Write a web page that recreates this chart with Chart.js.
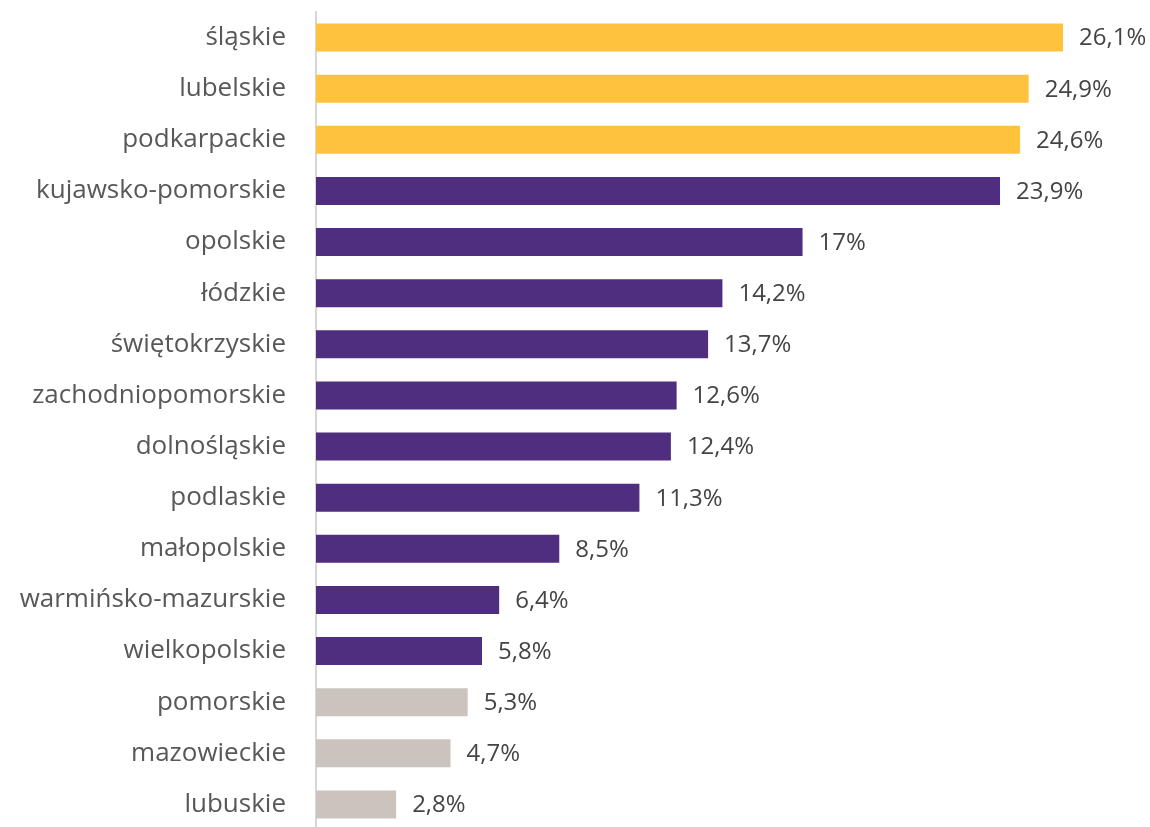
<!DOCTYPE html>
<html>
<head>
<meta charset="utf-8">
<script src="https://cdn.jsdelivr.net/npm/chart.js@4/dist/chart.umd.min.js"></script>
<style>
  html, body { margin: 0; padding: 0; background: #fff; overflow: hidden; }
  canvas { display: block; }
</style>
</head>
<body>
<canvas id="regionsChart" width="1150" height="830"></canvas>
<script>
// Share per region, %
const regions = ['śląskie', 'lubelskie', 'podkarpackie', 'kujawsko-pomorskie', 'opolskie', 'łódzkie',
  'świętokrzyskie', 'zachodniopomorskie', 'dolnośląskie', 'podlaskie', 'małopolskie',
  'warmińsko-mazurskie', 'wielkopolskie', 'pomorskie', 'mazowieckie', 'lubuskie'];
const shares = [26.1, 24.9, 24.6, 23.9, 17, 14.2, 13.7, 12.6, 12.4, 11.3, 8.5, 6.4, 5.8, 5.3, 4.7, 2.8];
// group: top = highest three, mid = the rest above average, low = bottom three
const groups = ['top', 'top', 'top', 'mid', 'mid', 'mid', 'mid', 'mid', 'mid', 'mid', 'mid', 'mid', 'mid', 'low', 'low', 'low'];

const groupColors = { top: '#FFC23D', mid: '#4F2D7F', low: '#CBC3BD' };
const fontFamily = "'Open Sans', sans-serif";

// Write the value next to the end of each bar
const valueLabels = {
  id: 'valueLabels',
  afterDatasetsDraw(chart) {
    const ctx = chart.ctx;
    const meta = chart.getDatasetMeta(0);
    ctx.save();
    ctx.font = '24px ' + fontFamily;
    ctx.fillStyle = '#444';
    ctx.textAlign = 'left';
    ctx.textBaseline = 'middle';
    meta.data.forEach((bar, i) => {
      const txt = shares[i].toString().replace('.', ',') + '%';
      ctx.fillText(txt, bar.x + 16, bar.y + 1);
    });
    ctx.restore();
  }
};

document.addEventListener('DOMContentLoaded', () => {
  const ctx = document.getElementById('regionsChart').getContext('2d');

  new Chart(ctx, {
    type: 'bar',
    data: {
      labels: regions,
      datasets: [{
        data: shares,
        backgroundColor: groups.map(g => groupColors[g]),
        barPercentage: 0.55,
        categoryPercentage: 1
      }]
    },
    options: {
      indexAxis: 'y',
      responsive: false,
      animation: false,
      layout: { padding: { top: 12, right: 4, bottom: 0, left: 0 } },
      plugins: {
        legend: { display: false },
        tooltip: { enabled: false }
      },
      scales: {
        x: {
          display: false,
          min: 0,
          max: 29
        },
        y: {
          afterFit: s => { s.width = 316; s.paddingTop = 0; s.paddingBottom = 0; },
          grid: { display: false, drawTicks: false },
          border: { display: true, color: '#d6d6d6', width: 2 },
          ticks: {
            padding: 30,
            color: '#585858',
            font: { family: fontFamily, size: 26 }
          }
        }
      }
    },
    plugins: [valueLabels]
  });
});
</script>
</body>
</html>
